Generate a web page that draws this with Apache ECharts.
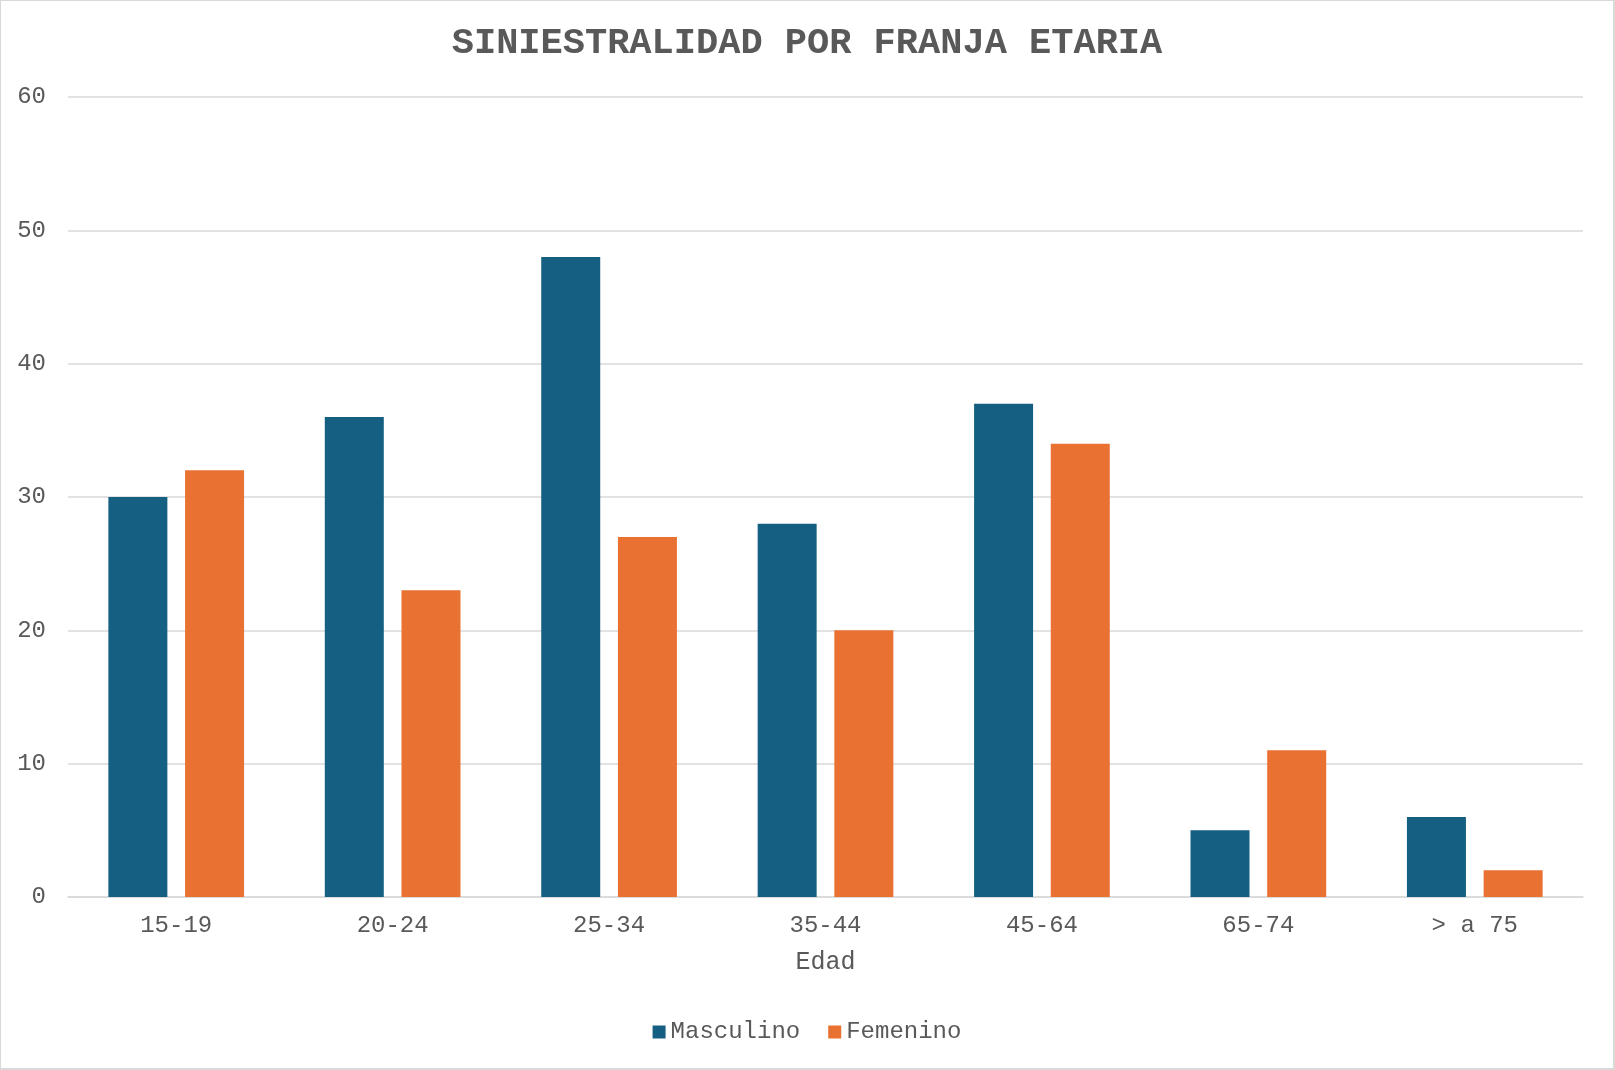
<!DOCTYPE html>
<html>
<head>
<meta charset="utf-8">
<script src="https://cdn.jsdelivr.net/npm/echarts@6/dist/echarts.min.js"></script>
<style>
  html, body { margin: 0; padding: 0; background: #fff; }
  #chart { width: 1615px; height: 1070px; box-sizing: border-box; border: 1px solid #d9d9d9; border-right-width: 2px; border-bottom-width: 2px; }
</style>
</head>
<body>
<div id="chart"></div>
<script>
"use strict";

var categories = ['15-19', '20-24', '25-34', '35-44', '45-64', '65-74', '> a 75'];
var masculino = [30, 36, 48, 28, 37, 5, 6];
var femenino = [32, 23, 27, 20, 34, 11, 2];
var seriesNames = ['Masculino', 'Femenino'];

var font = '"Courier New", "Liberation Mono", monospace';
var textColor = '#595959';

var myChart = echarts.init(document.getElementById('chart'));

var option = {
    animation: false,
    color: ['#156082', '#E97132'],
    title: {
        text: 'SINIESTRALIDAD POR FRANJA ETARIA',
        left: 'center',
        top: 19,
        textStyle: { fontFamily: font, fontSize: 37, fontWeight: 'bold', color: textColor }
    },
    legend: {
        data: seriesNames,
        left: 'center',
        top: 1014,
        itemWidth: 13,
        itemHeight: 13,
        itemGap: 28,
        icon: 'rect',
        textStyle: { fontFamily: font, fontSize: 24, color: textColor, padding: [0, 0, 0, 0] }
    },
    grid: { left: 67, right: 30, top: 96, bottom: 171 },
    xAxis: {
        type: 'category',
        data: categories,
        name: 'Edad',
        nameLocation: 'middle',
        nameGap: 53,
        nameTextStyle: { fontFamily: font, fontSize: 25, color: textColor },
        axisLine: { lineStyle: { color: '#d9d9d9', width: 1.5 } },
        axisTick: { show: false },
        axisLabel: { fontFamily: font, fontSize: 24, color: textColor, margin: 17 }
    },
    yAxis: {
        type: 'value',
        min: 0,
        max: 60,
        interval: 10,
        axisLine: { show: false },
        axisTick: { show: false },
        axisLabel: { fontFamily: font, fontSize: 24, color: textColor, margin: 22 },
        splitLine: { lineStyle: { color: '#d9d9d9', width: 1.5 } }
    },
    series: [
        {
            name: seriesNames[0],
            type: 'bar',
            data: masculino,
            barWidth: 59,
            barGap: '30%'
        },
        {
            name: seriesNames[1],
            type: 'bar',
            data: femenino,
            barWidth: 59,
            barGap: '30%'
        }
    ]
};

myChart.setOption(option);
</script>
</body>
</html>
